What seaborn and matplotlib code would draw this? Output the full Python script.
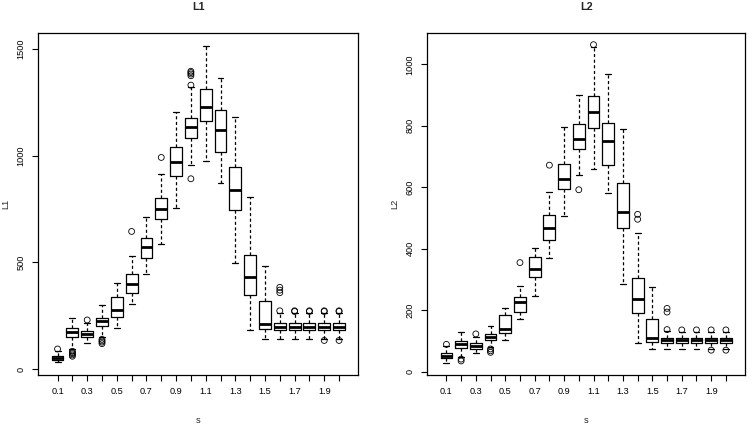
import numpy as np
import pandas as pd
import seaborn as sns
from matplotlib import pyplot as plt
from matplotlib.markers import MarkerStyle

# categories on the x axis (value of s)
s_cats = ["0.1", "0.2", "0.3", "0.4", "0.5", "0.6", "0.7", "0.8", "0.9", "1.0",
          "1.1", "1.2", "1.3", "1.4", "1.5", "1.6", "1.7", "1.8", "1.9", "2.0"]
s_ticklabels = ["0.1", "", "0.3", "", "0.5", "", "0.7", "", "0.9", "",
                "1.1", "", "1.3", "", "1.5", "", "1.7", "", "1.9", ""]

# L1 box stats
l1_lo = [31, 92, 123, 151, 191, 305, 445, 585, 753, 955, 977, 873, 497, 184, 142, 142, 142, 142, 143, 143]
l1_q1 = [42, 151, 149, 202, 242, 358, 519, 703, 905, 1083, 1165, 1016, 744, 345, 186, 181, 181, 181, 181, 181]
l1_med = [53, 175, 164, 225, 277, 398, 573, 750, 970, 1136, 1227, 1120, 838, 432, 210, 197, 197, 197, 197, 197]
l1_q3 = [62, 194, 180, 241, 339, 445, 616, 802, 1041, 1179, 1314, 1213, 947, 535, 320, 214, 214, 214, 214, 214]
l1_hi = [84, 240, 214, 298, 405, 528, 711, 914, 1206, 1323, 1516, 1363, 1183, 806, 483, 264, 264, 264, 264, 264]
l1_out_s = ["0.1", "0.2", "0.2", "0.2", "0.2", "0.2", "0.3", "0.4", "0.4", "0.4", "0.4",
            "0.6", "0.8", "1.0", "1.0", "1.0", "1.0", "1.0", "1.0",
            "1.6", "1.6", "1.6", "1.6", "1.7", "1.7", "1.8", "1.8",
            "1.9", "1.9", "1.9", "2.0", "2.0", "2.0"]
l1_out_v = [94, 83, 77, 72, 66, 60, 230, 139, 132, 126, 119,
            645, 992, 1331, 1375, 1383, 1390, 1396, 892,
            273, 358, 370, 383, 270, 273, 270, 273,
            270, 273, 134, 270, 273, 134]

# L2 box stats
l2_lo = [29, 49, 60, 81, 102, 172, 245, 370, 506, 641, 660, 580, 284, 94, 73, 73, 73, 73, 74, 74]
l2_q1 = [43, 76, 75, 102, 127, 193, 307, 429, 596, 724, 792, 672, 467, 192, 96, 92, 92, 92, 92, 92]
l2_med = [51, 90, 84, 112, 140, 228, 334, 467, 628, 756, 844, 752, 519, 237, 109, 102, 102, 102, 102, 102]
l2_q3 = [60, 100, 92, 123, 183, 244, 372, 509, 676, 807, 898, 808, 615, 304, 170, 109, 109, 109, 109, 109]
l2_hi = [83, 128, 114, 150, 208, 279, 401, 585, 795, 901, 1058, 969, 790, 452, 277, 132, 128, 128, 128, 128]
l2_out_s = ["0.1", "0.2", "0.2", "0.3", "0.4", "0.4", "0.4", "0.6", "0.8", "1.0", "1.1",
            "1.4", "1.4", "1.6", "1.6", "1.6", "1.7", "1.8", "1.9", "1.9", "2.0", "2.0"]
l2_out_v = [89, 41, 35, 123, 74, 68, 63, 355, 672, 592, 1064,
            496, 512, 137, 194, 206, 136, 136, 136, 70, 136, 70]


def long_df(lo, q1, med, q3, hi):
    # five-number summary per category -> long form table for sns.boxplot
    rows = []
    for cat, a, b, c, d, e in zip(s_cats, lo, q1, med, q3, hi):
        for v in (a, b, c, d, e):
            rows.append({"s": cat, "v": v})
    return pd.DataFrame(rows)


sns.set_style("white")
plt.rcParams["font.family"] = ["Liberation Sans", "DejaVu Sans"]

fig = plt.figure(figsize=(7.52, 4.26), dpi=100)
W, H = 752, 426
ax1 = fig.add_axes([38.3 / W, 1 - 375 / H, 320 / W, 341.7 / H])
ax2 = fig.add_axes([427.3 / W, 1 - 375 / H, 317.7 / W, 341.7 / H])

panels = [
    (ax1, "L1", long_df(l1_lo, l1_q1, l1_med, l1_q3, l1_hi), l1_out_s, l1_out_v,
     (-28, 1574), [0, 500, 1000, 1500]),
    (ax2, "L2", long_df(l2_lo, l2_q1, l2_med, l2_q3, l2_hi), l2_out_s, l2_out_v,
     (-10.7, 1101), [0, 200, 400, 600, 800, 1000]),
]

for ax, name, df, out_s, out_v, ylim, yticks in panels:
    sns.boxplot(
        data=df, x="s", y="v", order=s_cats, ax=ax,
        whis=(0, 100), fill=False, color="black", width=0.8,
        linewidth=0.9, showfliers=False,
        medianprops=dict(linewidth=2.0),
        whiskerprops=dict(linestyle=(0, (2.5, 2))),
    )
    out_x = [s_cats.index(c) for c in out_s]
    sns.scatterplot(x=out_x, y=out_v, ax=ax, color="black",
                    marker=MarkerStyle("o", fillstyle="none"), s=18, linewidth=0.6)

    ax.set_xlim(-1.3, 20.3)
    ax.set_ylim(*ylim)
    ax.set_xticks(range(len(s_cats)))
    ax.set_xticklabels(s_ticklabels)
    ax.set_yticks(yticks)
    ax.set_yticklabels([str(t) for t in yticks], rotation=90, va="center")
    ax.tick_params(direction="out", length=4, width=0.8, labelsize=6.6, pad=5,
                   bottom=True, left=True, colors="black")
    for sp in ax.spines.values():
        sp.set_color("black")
        sp.set_linewidth(0.9)
    ax.set_title(name, fontsize=7.8, fontweight="bold", pad=17)
    ax.set_xlabel("s", fontsize=6.6, labelpad=14)
    ax.set_ylabel(name, fontsize=6.6, labelpad=5)

fig.savefig("out.png", dpi=100)
